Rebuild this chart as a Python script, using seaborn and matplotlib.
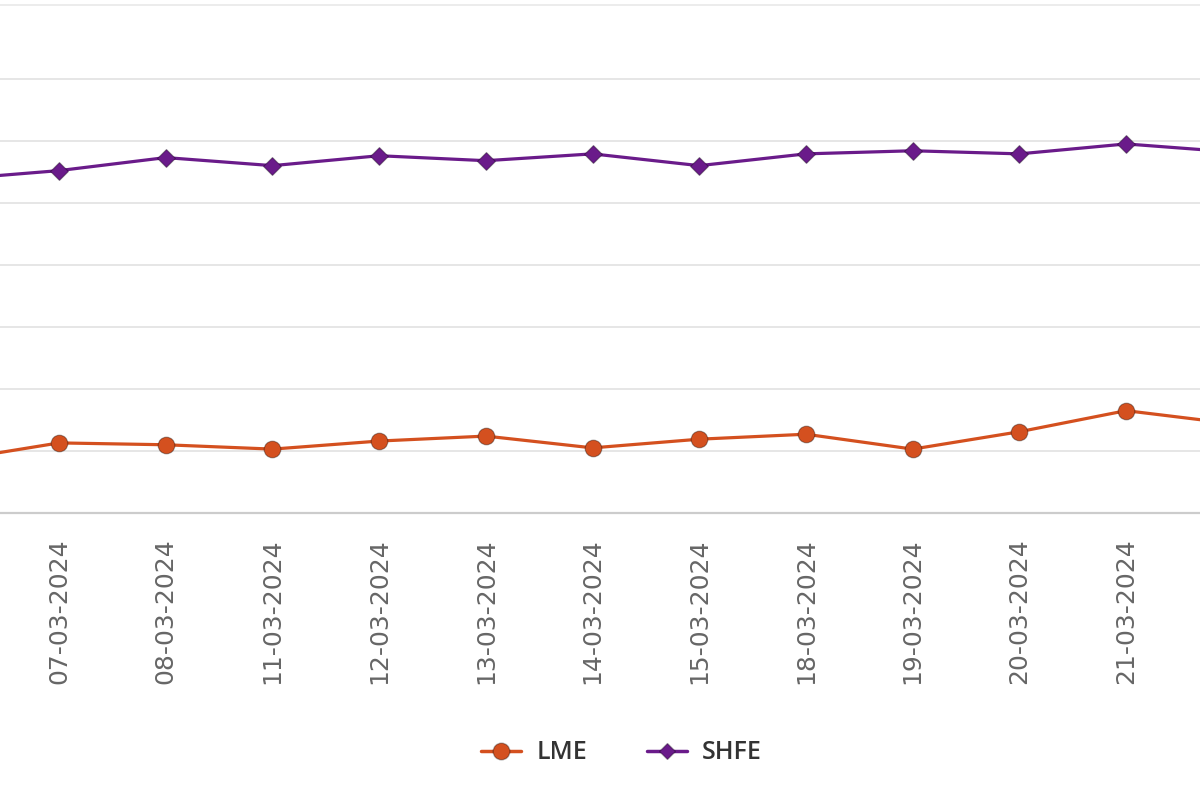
import pandas as pd
import seaborn as sns
import matplotlib.pyplot as plt
from matplotlib.lines import Line2D

dates = ['06-03-2024', '07-03-2024', '08-03-2024', '11-03-2024', '12-03-2024',
         '13-03-2024', '14-03-2024', '15-03-2024', '18-03-2024', '19-03-2024',
         '20-03-2024', '21-03-2024', '22-03-2024']
lme = [2185, 2213, 2210, 2203, 2216, 2224, 2205, 2219, 2227, 2203, 2231, 2265, 2244]
shfe = [2638, 2652, 2673, 2660, 2676, 2668, 2679, 2660, 2679, 2684, 2679, 2695, 2682]

df = pd.DataFrame({
    'idx': list(range(len(dates))) * 2,
    'price': lme + shfe,
    'exchange': ['LME'] * len(dates) + ['SHFE'] * len(dates),
})

lme_color = '#d4501f'
shfe_color = '#6a1b8a'

sns.set_style('white')
plt.rcParams['font.family'] = ['DejaVu Sans']

fig = plt.figure(figsize=(12, 8), dpi=100)
ax = fig.add_axes([0, 0.35875, 1, 0.635])

sns.lineplot(data=df, x='idx', y='price', hue='exchange', style='exchange',
             markers={'LME': 'o', 'SHFE': 'D'}, dashes=False,
             palette={'LME': lme_color, 'SHFE': shfe_color},
             linewidth=2.3, markersize=12, markeredgewidth=0.8,
             legend=False, ax=ax)
# SHFE diamonds a bit smaller
for line in ax.get_lines():
    if line.get_marker() == 'D':
        line.set_markersize(9)
    line.set_markeredgecolor((0, 0, 0, 0.35))

# grid lines
for v in range(2200, 2900, 100):
    ax.axhline(v, color='#e6e6e6', lw=1.4, zorder=0)

for s in ['left', 'right']:
    ax.spines[s].set_visible(False)
ax.spines['top'].set_color('#ececec')
ax.spines['top'].set_linewidth(1.4)
ax.spines['bottom'].set_color('#cccccc')
ax.spines['bottom'].set_linewidth(1.6)

ax.set_yticks([])
ax.set_xticks(range(len(dates)))
ax.set_xticklabels(dates, rotation=90, fontsize=18, color='#666666',
                   fontfamily='DejaVu Sans')
ax.set_xticks([i + 0.5 for i in range(-1, len(dates))], minor=True)
ax.tick_params(axis='x', which='major', length=0, pad=18)
ax.tick_params(axis='x', which='minor', length=16, width=1.2, color='#cccccc', direction='out')
ax.set_xlabel('')
ax.set_ylabel('')

# the view is cropped: only part of the first and last day shows
ax.set_xlim(0.447, 11.693)
ax.set_ylim(2100, 2919)

handles = [
    Line2D([], [], color=lme_color, lw=2.5, marker='o', markersize=12,
           markeredgecolor=(0, 0, 0, 0.3)),
    Line2D([], [], color=shfe_color, lw=2.5, marker='D', markersize=8,
           markeredgecolor=(0, 0, 0, 0.3)),
]
fig.legend(handles, ['LME', 'SHFE'], loc='center', bbox_to_anchor=(0.518, 0.059),
           ncol=2, frameon=False, handlelength=1.6, columnspacing=2.4,
           handletextpad=0.6,
           prop={'family': 'Open Sans', 'weight': 'semibold', 'size': 18})
for t in fig.legends[0].get_texts():
    t.set_color('#333333')

fig.savefig('out.png', dpi=100)
